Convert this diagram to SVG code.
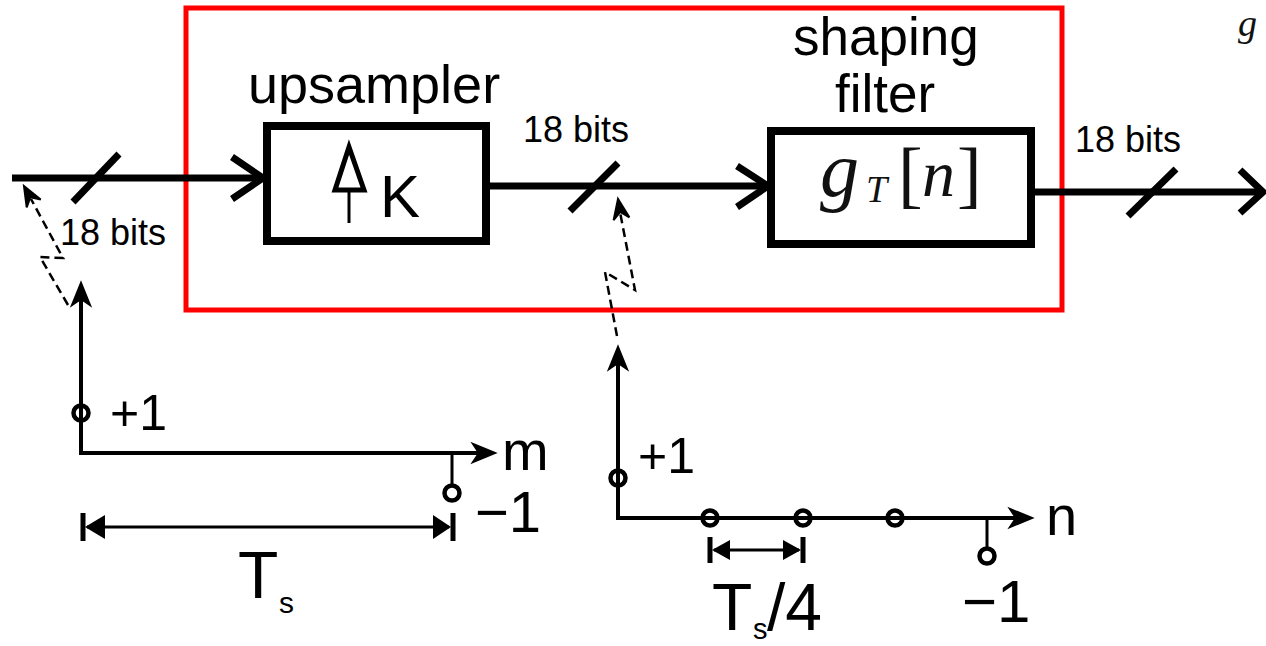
<svg xmlns="http://www.w3.org/2000/svg" width="1266" height="646" viewBox="0 0 1266 646">
  <style>
    .t { font-family: "Liberation Sans", Arial, sans-serif; fill: #000; }
    .m { font-family: "Liberation Serif", "Times New Roman", serif; font-style: italic; fill: #111; }
    .sig { stroke: #000; stroke-width: 7; fill: none; }
    .chev { stroke: #000; stroke-width: 7; fill: none; stroke-linecap: butt; stroke-linejoin: miter; }
    .box { stroke: #000; stroke-width: 8; fill: #fff; }
    .ax { stroke: #000; stroke-width: 4; fill: none; }
    .stem { stroke: #000; stroke-width: 3; fill: none; }
    .dot { stroke: #000; stroke-width: 4.5; fill: none; }
    .dash { stroke: #000; stroke-width: 2.5; fill: none; stroke-dasharray: 9 5; }
    .bar { stroke: #000; stroke-width: 5; }
    .head { fill: #000; stroke: #000; stroke-width: 2; stroke-linejoin: miter; }
  </style>
  <defs>
    <!-- barbed arrowhead pointing to +x, tip at origin -->
    <path id="barb" d="M0,0 L-22,-9 L-16,0 L-22,9 Z"/>
    <path id="barbs" d="M0,0 L-20,-8 L-13,0 L-20,8 Z"/>
  </defs>
  <rect width="1266" height="646" fill="#fff"/>

  <!-- red frame -->
  <rect id="frame" x="186" y="8" width="876" height="302" fill="none" stroke="#ff0000" stroke-width="5"/>

  <g id="connectors">
    <!-- input line -->
    <line class="sig" x1="12" y1="178" x2="262" y2="178"/>
    <polyline class="chev" points="232,157 263,178 232,199"/>
    <line class="sig" x1="73" y1="202" x2="119" y2="154"/>
    <!-- middle line -->
    <line class="sig" x1="486" y1="186" x2="766" y2="186"/>
    <polyline class="chev" points="737,166 768,186 737,207"/>
    <line class="sig" x1="570" y1="211" x2="618" y2="163"/>
    <!-- output line -->
    <line class="sig" x1="1031" y1="192" x2="1262" y2="192"/>
    <polyline class="chev" points="1240,170 1263,192 1240,213"/>
    <line class="sig" x1="1128" y1="216" x2="1176" y2="169"/>
    <!-- dashed clock links -->
    <polyline class="dash" points="68,305 40,257 63,258 31,199"/>
    <use href="#barbs" class="head" transform="translate(24,186) rotate(-119)"/>
    <polyline class="dash" points="617,336 605,272 635,290 620,212"/>
    <use href="#barbs" class="head" transform="translate(618,199) rotate(-100)"/>
  </g>

  <g id="upsampler">
    <text class="t" x="248" y="103" font-size="54">upsampler</text>
    <rect class="box" x="267" y="126" width="219" height="115"/>
    <polygon points="335,190 364,190 349,147" fill="none" stroke="#000" stroke-width="5" stroke-linejoin="miter"/>
    <line x1="349" y1="190" x2="349" y2="223" stroke="#000" stroke-width="3"/>
    <text class="t" x="380" y="217" font-size="60">K</text>
  </g>

  <g id="shaping-filter">
    <text class="t" x="793" y="55" font-size="53">shaping</text>
    <text class="t" x="835" y="112" font-size="53">filter</text>
    <rect class="box" x="771" y="131" width="260" height="113"/>
    <text class="m"><tspan x="820" y="196" font-size="78">g</tspan><tspan x="866" y="202" font-size="38">T</tspan><tspan x="898" y="199" font-size="74" font-style="normal">[</tspan><tspan x="922" y="196" font-size="66">n</tspan><tspan x="957" y="199" font-size="74" font-style="normal">]</tspan></text>
  </g>

  <g id="labels">
    <text class="t" x="60" y="245" font-size="36">18 bits</text>
    <text class="t" x="523" y="142" font-size="36">18 bits</text>
    <text class="t" x="1075" y="152" font-size="36">18 bits</text>
    <text class="m" x="1238" y="36" font-size="38">g</text>
  </g>

  <g id="plot-m">
    <line class="ax" x1="81" y1="453" x2="81" y2="295"/>
    <use href="#barb" class="head" transform="translate(81,283) rotate(-90)"/>
    <line class="ax" x1="79" y1="453" x2="484" y2="453"/>
    <use href="#barb" class="head" transform="translate(495,453)"/>
    <circle class="dot" cx="81" cy="413" r="7.5"/>
    <line class="stem" x1="452" y1="453" x2="452" y2="486"/>
    <circle class="dot" cx="452" cy="493" r="7.5"/>
    <text class="t" x="110" y="430" font-size="50">+1</text>
    <text class="t" x="502" y="470" font-size="56">m</text>
    <text class="t" x="475" y="532" font-size="58">−1</text>
    <line class="stem" x1="87" y1="527" x2="449" y2="527"/>
    <line class="bar" x1="83" y1="513" x2="83" y2="541"/>
    <line class="bar" x1="453" y1="513" x2="453" y2="541"/>
    <polygon points="85,527 105,515 105,539" fill="#000"/>
    <polygon points="451,527 433,515 433,539" fill="#000"/>
    <text class="t" x="238" y="598" font-size="66">T</text>
    <text class="t" x="279" y="613" font-size="30">s</text>
  </g>

  <g id="plot-n">
    <line class="ax" x1="618" y1="518" x2="618" y2="358"/>
    <use href="#barb" class="head" transform="translate(618,347) rotate(-90)"/>
    <line class="ax" x1="616" y1="518" x2="1021" y2="518"/>
    <use href="#barb" class="head" transform="translate(1032,518)"/>
    <circle class="dot" cx="618" cy="478" r="7.5"/>
    <circle class="dot" cx="710" cy="518" r="7.5"/>
    <circle class="dot" cx="803" cy="518" r="7.5"/>
    <circle class="dot" cx="895" cy="518" r="7.5"/>
    <line class="stem" x1="987" y1="518" x2="987" y2="549"/>
    <circle class="dot" cx="987" cy="556" r="7.5"/>
    <text class="t" x="638" y="473" font-size="50">+1</text>
    <text class="t" x="1046" y="535" font-size="56">n</text>
    <text class="t" x="962" y="622" font-size="60">−1</text>
    <line class="stem" x1="714" y1="550" x2="799" y2="550"/>
    <line class="bar" x1="710" y1="537" x2="710" y2="563"/>
    <line class="bar" x1="803" y1="537" x2="803" y2="563"/>
    <polygon points="712,550 730,540 730,560" fill="#000"/>
    <polygon points="801,550 783,540 783,560" fill="#000"/>
    <text class="t" x="712" y="630" font-size="66">T</text>
    <text class="t" x="753" y="639" font-size="29">s</text>
    <text class="t" x="767" y="630" font-size="66">/4</text>
  </g>
</svg>
